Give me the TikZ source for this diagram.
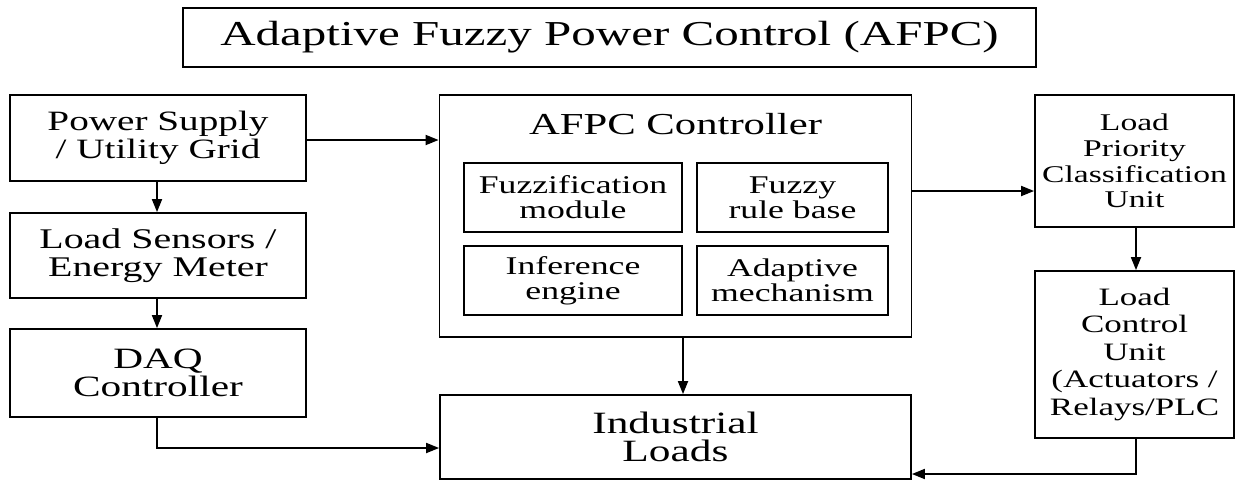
\documentclass[tikz,border=0pt]{standalone}
\usepackage{fontspec}
\setmainfont{Liberation Serif}[FakeStretch=1.4]
\usetikzlibrary{arrows.meta}
\begin{document}
\begin{tikzpicture}[x=1pt,y=-1pt,
  box/.style={draw,line width=1.8pt,inner sep=0pt,align=center},
  arr/.style={line width=1.8pt,-{Triangle[length=13pt,width=10pt]}},
  small/.style={font=\fontsize{25.5}{25}\selectfont}]
\useasboundingbox (0,0) rectangle (1235,480);
\node[box,minimum width=853pt,minimum height=59pt,font=\fontsize{35}{36}\selectfont] (title) at (609.5,37.5) {Adaptive Fuzzy Power Control (AFPC)};
\node[box,font=\fontsize{28}{28}\selectfont,minimum width=296pt,minimum height=86pt] (ps) at (158,138) {Power Supply\\/ Utility Grid};
\node[box,font=\fontsize{28.5}{28}\selectfont,minimum width=296pt,minimum height=85pt] (ls) at (158,255.5) {Load Sensors /\\Energy Meter};
\node[box,font=\fontsize{29.5}{28}\selectfont,minimum width=296pt,minimum height=88pt] (daq) at (158,373) {DAQ\\Controller};
\node[box,minimum width=472pt,minimum height=242pt] (afpc) at (675.5,216) {};
\node[font=\fontsize{30.5}{30}\selectfont,inner sep=0pt] (afpct) at (675.5,124) {AFPC Controller};
\node[box,small,minimum width=218pt,minimum height=69pt] (fuzz) at (573,197.5) {Fuzzification\\module};
\node[box,small,minimum width=191pt,minimum height=69pt] (rule) at (792.5,197.5) {Fuzzy\\rule base};
\node[box,small,minimum width=218pt,minimum height=69pt] (inf) at (573,280.5) {Inference\\engine};
\node[box,small,minimum width=191pt,minimum height=69pt] (adap) at (792.5,280.5) {Adaptive\\mechanism};
\node[box,font=\fontsize{31}{28}\selectfont,minimum width=471pt,minimum height=84pt] (ind) at (675.5,437) {Industrial\\Loads};
\node[box,font=\fontsize{24}{25.7}\selectfont,minimum width=199pt,minimum height=132pt] (lp) at (1134.5,161) {Load\\Priority\\Classification\\Unit};
\node[box,font=\fontsize{25}{27.5}\selectfont,minimum width=199pt,minimum height=167pt] (lc) at (1134.5,354.5) {Load\\Control\\Unit\\(Actuators /\\Relays/PLC};
\coordinate (c1) at (157,448);
\coordinate (c2) at (683,337);
\coordinate (c3) at (912,191);
\coordinate (c4) at (1136,474);
\draw[arr] (ps.east |- 0,140) -- (afpc.west |- 0,140);
\draw[arr] (ps.south -| c1) -- (ls.north -| c1);
\draw[arr] (ls.south -| c1) -- (daq.north -| c1);
\draw[arr] (daq.south -| c1) -- (c1) -- (ind.west |- c1);
\draw[arr] (c2) -- (ind.north -| c2);
\draw[arr] (c3) -- (lp.west |- c3);
\draw[arr] (lp.south -| c4) -- (lc.north -| c4);
\draw[arr] (lc.south -| c4) -- (c4) -- (ind.east |- c4);
\end{tikzpicture}
\end{document}
